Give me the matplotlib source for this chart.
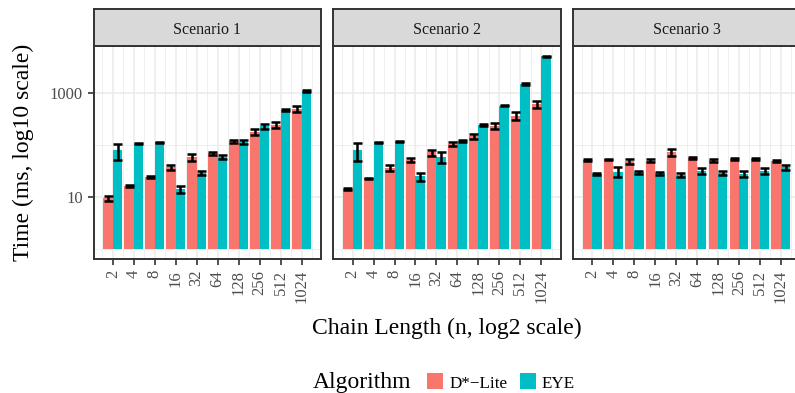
import numpy as np
import matplotlib
matplotlib.use("Agg")
import matplotlib.pyplot as plt
from matplotlib.patches import Rectangle
from matplotlib.ticker import FixedLocator, NullFormatter

plt.rcParams['font.family'] = ['Liberation Serif', 'DejaVu Serif']

# ---- data: mean run time (ms) and error half-width per chain length ----
chain_lengths = [2, 4, 8, 16, 32, 64, 128, 256, 512, 1024]
scenarios = ["Scenario 1", "Scenario 2", "Scenario 3"]
algorithms = ["D*\u2212Lite", "EYE"]

s1_dlite = [9.5, 16.2, 24.5, 37.5, 58, 69, 116, 177, 243, 495]
s1_dlite_err = [1.2, 0.8, 1.0, 3.8, 8.5, 5, 8, 20, 30, 60]
s1_eye = [78, 106, 111, 14.3, 29.2, 59, 114, 230, 459, 1060]
s1_eye_err = [27, 4, 4, 2.2, 3, 6, 8, 25, 20, 40]

s2_dlite = [14.2, 23, 36.3, 51, 72, 103, 145, 232, 358, 596]
s2_dlite_err = [0.5, 0.7, 4.5, 5, 9.5, 8, 17, 35, 62, 87]
s2_eye = [79, 112, 114, 24.8, 59, 119, 238, 565, 1485, 4950]
s2_eye_err = [30, 3, 3, 4.3, 14, 4, 8, 20, 60, 150]

s3_dlite = [51, 53, 48.7, 50, 73, 56, 51, 54, 53, 50]
s3_dlite_err = [2, 1.5, 6, 2.5, 12, 3, 3, 2, 2, 2]
s3_eye = [27.8, 30.5, 29.6, 28.7, 26.7, 31.4, 29, 27.8, 31.7, 37]
s3_eye_err = [1, 6.4, 2, 2, 2.5, 3.9, 2.5, 4, 4.6, 4]

panels = [
    ((s1_dlite, s1_dlite_err), (s1_eye, s1_eye_err)),
    ((s2_dlite, s2_dlite_err), (s2_eye, s2_eye_err)),
    ((s3_dlite, s3_dlite_err), (s3_eye, s3_eye_err)),
]

colors = ["#F8766D", "#00BFC4"]
border = "#333333"
grid_c = "#EBEBEB"

W, H = 795, 393
fig = plt.figure(figsize=(W / 100, H / 100), dpi=100)
fig.patch.set_facecolor("white")


def px_box(left, top, width, height):
    return [left / W, 1 - (top + height) / H, width / W, height / H]


x = np.log2(chain_lengths)
bar_w = 0.45
cap_half = 0.215
err_lw = 1.8

# shared log-scale limits with 5% padding (bars start at 1)
hi = max(np.log10(np.array(m) + np.array(e)).max()
         for pair in panels for (m, e) in pair)
pad = 0.05 * (hi - 0.0)
ylim = (10 ** (0.0 - pad), 10 ** (hi + pad))

panel_left = [93.5, 333.3, 572.9]
panel_w = 227.3
panel_top, panel_h = 46.0, 213.0
strip_top, strip_h = 9.5, 36.0

for i, (name, series) in enumerate(zip(scenarios, panels)):
    ax = fig.add_axes(px_box(panel_left[i], panel_top, panel_w, panel_h))
    ax.set_yscale("log")
    ax.set_ylim(*ylim)
    ax.set_xlim(0.08, 10.92)
    ax.set_axisbelow(True)

    # grid: majors on categories / decades 10, 1000; minors between
    for gx in np.arange(1, 11):
        ax.axvline(gx, color=grid_c, lw=1.1, zorder=0)
    for gx in np.arange(0.5, 11.0, 1.0):
        ax.axvline(gx, color=grid_c, lw=0.55, zorder=0)
    for gy in [10, 1000]:
        ax.axhline(gy, color=grid_c, lw=1.1, zorder=0)
    for gy in [1, 100, 10000]:
        ax.axhline(gy, color=grid_c, lw=0.55, zorder=0)

    for j, (vals, errs) in enumerate(series):
        offs = -bar_w / 2 if j == 0 else bar_w / 2
        xs = x + offs
        vals = np.array(vals, dtype=float)
        errs = np.array(errs, dtype=float)
        ax.bar(xs, vals - 1, bottom=1, width=bar_w, color=colors[j],
               edgecolor="none", zorder=2)
        lo, up = vals - errs, vals + errs
        ax.vlines(xs, lo, up, color="black", lw=err_lw, zorder=3)
        ax.hlines(lo, xs - cap_half, xs + cap_half, color="black", lw=err_lw, zorder=3)
        ax.hlines(up, xs - cap_half, xs + cap_half, color="black", lw=err_lw, zorder=3)

    ax.xaxis.set_major_locator(FixedLocator(x))
    ax.set_xticklabels([str(n) for n in chain_lengths], rotation=90,
                       fontsize=12, color="#4D4D4D")
    ax.yaxis.set_major_locator(FixedLocator([10, 1000]))
    ax.yaxis.set_minor_locator(FixedLocator([]))
    ax.yaxis.set_minor_formatter(NullFormatter())
    if i == 0:
        ax.set_yticklabels(["10", "1000"], fontsize=12, color="#4D4D4D")
    else:
        ax.tick_params(axis="y", labelleft=False, left=False)
    ax.tick_params(axis="both", which="major", length=4.3, width=1.2,
                   color=border, pad=3.5)
    for sp in ax.spines.values():
        sp.set_color(border)
        sp.set_linewidth(1.4)
        sp.set_zorder(4)

    # facet strip
    st = fig.add_axes(px_box(panel_left[i], strip_top, panel_w, strip_h))
    st.set_facecolor("#D9D9D9")
    st.set_xticks([])
    st.set_yticks([])
    for sp in st.spines.values():
        sp.set_color(border)
        sp.set_linewidth(1.4)
    st.text(0.5, 1 - (34.3 - strip_top) / strip_h, name, transform=st.transAxes,
            ha="center", va="baseline", fontsize=11.5, color="#1A1A1A")

# axis titles
fig.text(23.5 / W, 1 - 152.5 / H, "Time (ms, log10 scale)", rotation=90,
         ha="center", va="center", fontsize=17, color="black")
fig.text(446.5 / W, 1 - 334 / H, "Chain Length (n, log2 scale)",
         ha="center", va="baseline", fontsize=17, color="black")

# legend along the bottom edge
fig.text(313 / W, 1 - 387.8 / H, "Algorithm", ha="left", va="baseline",
         fontsize=17, color="black")
key_x = [427, 520]
lab_x = [450, 542]
for k in range(2):
    fig.add_artist(Rectangle((key_x[k] / W, 1 - 388.5 / H), 15.5 / W, 15.5 / H,
                             transform=fig.transFigure, facecolor=colors[k],
                             edgecolor="none"))
    fig.text(lab_x[k] / W, 1 - 388 / H, algorithms[k], ha="left",
             va="baseline", fontsize=12.3, color="black")

fig.savefig("out.png", dpi=100)
